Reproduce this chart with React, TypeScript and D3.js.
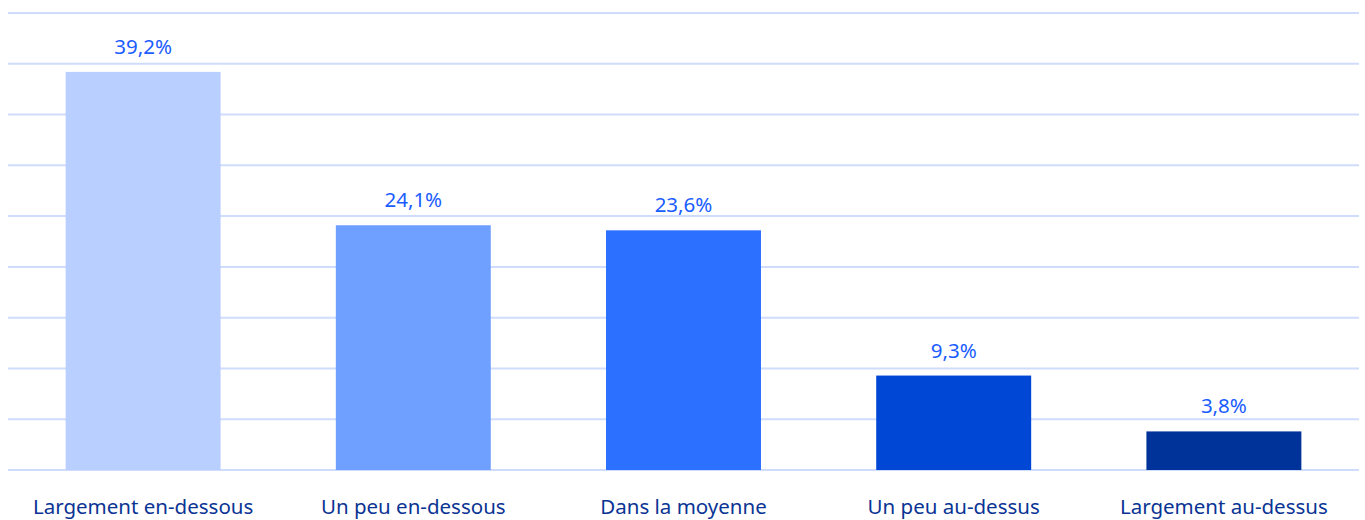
import React from "react";
import * as d3 from "d3";

const categories = ["Largement en-dessous", "Un peu en-dessous", "Dans la moyenne", "Un peu au-dessus", "Largement au-dessus"];
const values = [39.2, 24.1, 23.6, 9.3, 3.8];
const valueLabels = ["39,2%", "24,1%", "23,6%", "9,3%", "3,8%"];
const barColors = ["#b9cfff", "#70a0ff", "#2b70ff", "#0047d6", "#003399"];
const gridTicks = [0, 5, 10, 15, 20, 25, 30, 35, 40, 45];

const W = 1365;
const H = 520;
const FONT = "'Noto Sans', 'Open Sans', sans-serif";

export default function App() {
  const x = d3.scaleBand<string>().domain(categories).range([8, 1359]).paddingInner(0.4265).paddingOuter(0.2133);
  const y = d3.scaleLinear().domain([0, 45]).range([470, 13]);
  return (
    <svg width={W} height={H} style={{ position: "absolute", left: 0, top: 0 }}>
      <rect width={W} height={H} fill="#ffffff" />
      {gridTicks.map((t) => (
        <line key={t} x1={8} x2={1359} y1={y(t)} y2={y(t)} stroke="#cfdcfb" strokeWidth={2} />
      ))}
      {categories.map((c, i) => (
        <g key={c}>
          <rect x={x(c)} y={y(values[i])} width={x.bandwidth()} height={y(0) - y(values[i])} fill={barColors[i]} />
          <text x={(x(c) as number) + x.bandwidth() / 2} y={y(values[i]) - 18} textAnchor="middle" fontFamily={FONT} fontSize={20.5} fill="#1a5cff">
            {valueLabels[i]}
          </text>
          <text x={(x(c) as number) + x.bandwidth() / 2} y={514} textAnchor="middle" fontFamily={FONT} fontSize={20.5} fill="#0a3494">
            {c}
          </text>
        </g>
      ))}
    </svg>
  );
}
